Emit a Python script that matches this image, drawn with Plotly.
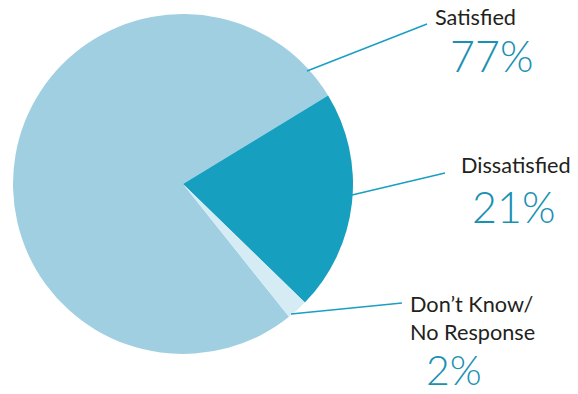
import plotly.graph_objects as go

# Survey result shares
labels = ["Satisfied", "Dissatisfied", "Don\u2019t Know/<br>No Response"]
shares = [77, 21, 2]
slice_colors = ["#A0CFE2", "#179FC0", "#D6ECF4"]

W, H = 578, 394
LABEL_COLOR = "#231F20"
PCT_COLOR = "#1A90B3"
LINE_COLOR = "#1A9FC2"
FONT = "Lato"


def px(x):
    return x / W


def py(y):
    return 1 - y / H


fig = go.Figure(
    go.Pie(
        labels=labels,
        values=shares,
        marker=dict(colors=slice_colors, line=dict(width=0)),
        sort=False,
        direction="clockwise",
        rotation=141.4,
        textinfo="none",
        hoverinfo="label+percent",
        showlegend=False,
        domain=dict(x=[px(13), px(353)], y=[py(354), py(14)]),
    )
)

# Callout text: category name and share, with a leader line to each slice
callouts = [
    # (label, label pos, label anchor, pct pos, pct size, line start, line end)
    (labels[0], (475, 17), "center", (491, 56), 43, (307, 71), (427, 24)),
    (labels[1], (516, 165), "center", (513, 206), 43, (352, 195), (445, 173)),
    (labels[2], (408, 318), "left", (454, 369), 41, (291, 314), (402, 303)),
]

annotations = []
shapes = []
for (name, lp, anchor, pp, psize, l0, l1), v in zip(callouts, shares):
    annotations.append(dict(
        x=px(lp[0]), y=py(lp[1]), xref="paper", yref="paper",
        text=name, showarrow=False, xanchor=anchor, yanchor="middle",
        align="left",
        font=dict(family=FONT, size=21.7, color=LABEL_COLOR),
    ))
    annotations.append(dict(
        x=px(pp[0]), y=py(pp[1]), xref="paper", yref="paper",
        text=f"{v}%", showarrow=False, xanchor="center", yanchor="middle",
        borderpad=0,
        font=dict(family=FONT, size=psize, color=PCT_COLOR, weight=300),
    ))
    shapes.append(dict(
        type="line", xref="paper", yref="paper",
        x0=px(l0[0]), y0=py(l0[1]), x1=px(l1[0]), y1=py(l1[1]),
        line=dict(color=LINE_COLOR, width=1.5),
    ))

fig.update_layout(
    width=W, height=H,
    margin=dict(l=0, r=0, t=0, b=0),
    paper_bgcolor="white",
    plot_bgcolor="white",
    annotations=annotations,
    shapes=shapes,
)

fig.write_html("out.html")
